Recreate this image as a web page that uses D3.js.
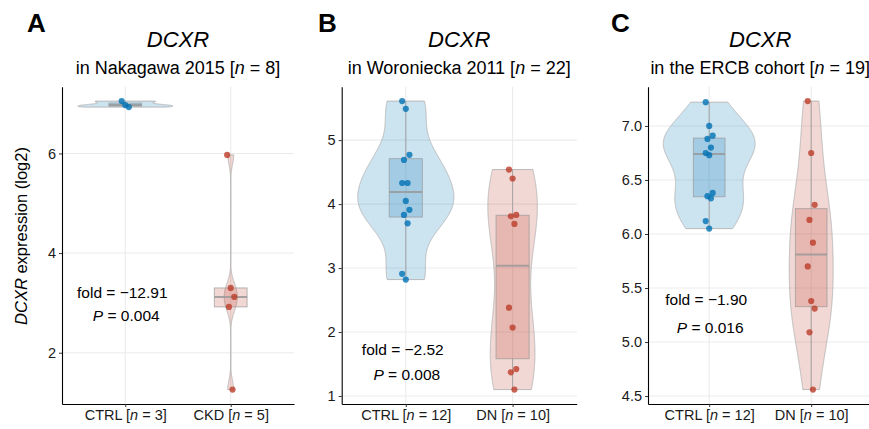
<!DOCTYPE html>
<html>
<head>
<script src="https://cdn.jsdelivr.net/npm/d3@7"></script>
<style>
body { margin: 0; background: #fff; }
svg { font-family: "Liberation Sans", Arial, Helvetica, sans-serif; }
</style>
</head>
<body>
<svg id="chart" width="869" height="429"></svg>
<script>
// values
var groupsA = ["CTRL", "CKD"], nA = [3, 5];
var ctrlA = [7.05, 6.97, 6.93];
var ckdA = [5.97, 3.30, 3.12, 2.92, 1.26];

var groupsB = ["CTRL", "DN"], nB = [12, 10];
var ctrlB = [5.61, 5.49, 4.77, 4.69, 4.33, 4.33, 4.05, 3.91, 3.83, 3.70, 2.91, 2.82];
var dnB = [4.54, 4.40, 3.83, 3.81, 3.69, 2.38, 2.07, 1.42, 1.37, 1.10];

var groupsC = ["CTRL", "DN"], nC = [12, 10];
var ctrlC = [7.22, 7.00, 6.91, 6.88, 6.80, 6.75, 6.73, 6.38, 6.35, 6.33, 6.12, 6.05];
var dnC = [7.23, 6.75, 6.27, 6.13, 5.92, 5.70, 5.38, 5.31, 5.09, 4.56];

var letters = ["A", "B", "C"];
var cohorts = ["in Nakagawa 2015", "in Woroniecka 2011", "in the ERCB cohort"];
var cohortN = [8, 22, 19];
var folds = ["\u221212.91", "\u22122.52", "\u22121.90"];
var pvals = ["0.004", "0.008", "0.016"];
var yTicks = [[2, 4, 6], [1, 2, 3, 4, 5], [4.5, 5, 5.5, 6, 6.5, 7]];

// layout of the three panels
var panels = [
    {groups: groupsA, n: nA, values: [ctrlA, ckdA], l: 62, r: 294, letterX: 27, foldY: 3.21, pY: 2.75, fmt: d3.format("d")},
    {groups: groupsB, n: nB, values: [ctrlB, dnB], l: 341.7, r: 576.7, letterX: 318, foldY: 1.72, pY: 1.33, fmt: d3.format("d")},
    {groups: groupsC, n: nC, values: [ctrlC, dnC], l: 648, r: 872.4, letterX: 611, foldY: 5.39, pY: 5.13, fmt: d3.format(".1f")}
];
var plotTop = 86.7, plotBottom = 404;
var colors = ["#0072B5", "#BC3C29"];

var svg = d3.select("#chart");

function bwNrd0(x) {
    var s = x.slice().sort(d3.ascending);
    var iqr = d3.quantile(s, 0.75) - d3.quantile(s, 0.25);
    var lo = Math.min(d3.deviation(x), iqr / 1.34);
    return 0.9 * lo * Math.pow(x.length, -0.2);
}

function kde(x, bw, grid) {
    return grid.map(function (v) {
        return {v: v, d: d3.mean(x, function (xi) {
            var u = (v - xi) / bw;
            return Math.exp(-0.5 * u * u) / (Math.sqrt(2 * Math.PI) * bw);
        })};
    });
}

panels.forEach(function (p, pi) {
    var all = d3.merge(p.values);
    var ext = d3.extent(all), pad = (ext[1] - ext[0]) * 0.05;
    var y = d3.scaleLinear().domain([ext[0] - pad, ext[1] + pad]).range([plotBottom, plotTop]);
    var x = d3.scalePoint().domain(p.groups).range([p.l, p.r]).padding(0.6);
    var step = x.step();
    var g = svg.append("g");

    // grid
    g.selectAll(".hg").data(yTicks[pi]).enter().append("line")
        .attr("x1", p.l).attr("x2", p.r)
        .attr("y1", function (d) { return y(d); }).attr("y2", function (d) { return y(d); })
        .attr("stroke", "#ebebeb").attr("stroke-width", 1.1);
    g.selectAll(".vg").data(p.groups).enter().append("line")
        .attr("x1", function (d) { return x(d); }).attr("x2", function (d) { return x(d); })
        .attr("y1", plotTop).attr("y2", plotBottom)
        .attr("stroke", "#ebebeb").attr("stroke-width", 1.1);

    // violins
    var dens = p.values.map(function (v) {
        var e = d3.extent(v);
        var grid = d3.range(512).map(function (i) { return e[0] + (e[1] - e[0]) * i / 511; });
        return kde(v, bwNrd0(v), grid);
    });
    var maxD = d3.max(dens, function (ds) { return d3.max(ds, function (d) { return d.d; }); });
    var w = d3.scaleLinear().domain([0, maxD]).range([0, 0.45 * step]);

    dens.forEach(function (ds, gi) {
        var cx = x(p.groups[gi]);
        var area = d3.area()
            .y(function (d) { return y(d.v); })
            .x0(function (d) { return cx - w(d.d); })
            .x1(function (d) { return cx + w(d.d); });
        g.append("path").datum(ds).attr("d", area)
            .attr("fill", colors[gi]).attr("fill-opacity", 0.2)
            .attr("stroke", "#b3b3b3").attr("stroke-width", 0.9);
    });

    // boxplots
    p.values.forEach(function (v, gi) {
        var s = v.slice().sort(d3.ascending);
        var q1 = d3.quantile(s, 0.25), med = d3.quantile(s, 0.5), q3 = d3.quantile(s, 0.75);
        var iqr = q3 - q1;
        var lo = d3.min(s.filter(function (d) { return d >= q1 - 1.5 * iqr; }));
        var hi = d3.max(s.filter(function (d) { return d <= q3 + 1.5 * iqr; }));
        var cx = x(p.groups[gi]), bw = 0.31 * step;
        g.append("line").attr("x1", cx).attr("x2", cx).attr("y1", y(hi)).attr("y2", y(q3))
            .attr("stroke", "#999").attr("stroke-opacity", 0.8);
        g.append("line").attr("x1", cx).attr("x2", cx).attr("y1", y(q1)).attr("y2", y(lo))
            .attr("stroke", "#999").attr("stroke-opacity", 0.8);
        g.append("rect").attr("x", cx - bw / 2).attr("width", bw)
            .attr("y", y(q3)).attr("height", y(q1) - y(q3))
            .attr("fill", colors[gi]).attr("fill-opacity", 0.2)
            .attr("stroke", "#999").attr("stroke-opacity", 0.7);
        g.append("line").attr("x1", cx - bw / 2).attr("x2", cx + bw / 2)
            .attr("y1", y(med)).attr("y2", y(med))
            .attr("stroke", "#999").attr("stroke-width", 2).attr("stroke-opacity", 0.85);
    });

    // jittered points
    p.values.forEach(function (v, gi) {
        var cx = x(p.groups[gi]);
        g.selectAll(".pt" + gi).data(v).enter().append("circle")
            .attr("cx", function (d, i) { return cx + (((i * 7) % 5) - 2) * 0.017 * step; })
            .attr("cy", function (d) { return y(d); })
            .attr("r", 3.1)
            .attr("fill", colors[gi]).attr("fill-opacity", 0.8);
    });

    // axes
    var ya = g.append("g").attr("transform", "translate(" + p.l + ",0)")
        .call(d3.axisLeft(y).tickValues(yTicks[pi]).tickFormat(p.fmt).tickSize(3).tickSizeOuter(0).tickPadding(3));
    var xa = g.append("g").attr("transform", "translate(0," + plotBottom + ")")
        .call(d3.axisBottom(x).tickSize(3).tickSizeOuter(0).tickPadding(3));
    [ya, xa].forEach(function (a) {
        a.select(".domain").attr("stroke", "#000").attr("stroke-width", 1.1);
        a.selectAll(".tick line").attr("stroke", "#333");
        a.selectAll(".tick text").attr("fill", "#1a1a1a").attr("font-size", 14.5)
            .attr("font-family", null);
    });
    xa.selectAll(".tick text").each(function (d, i) {
        var t = d3.select(this).text(null);
        t.append("tspan").text(d + " [");
        t.append("tspan").attr("font-style", "italic").text("n");
        t.append("tspan").text(" = " + p.n[i] + "]");
    });

    // titles
    var mid = (p.l + p.r) / 2;
    svg.append("text").attr("x", p.letterX).attr("y", 32)
        .attr("font-size", 26).attr("font-weight", "bold").text(letters[pi]);
    svg.append("text").attr("x", mid).attr("y", 47).attr("text-anchor", "middle")
        .attr("font-size", 22).attr("font-style", "italic").text("DCXR");
    var st = svg.append("text").attr("x", mid).attr("y", 74).attr("text-anchor", "middle")
        .attr("font-size", 18);
    st.append("tspan").text(cohorts[pi] + " [");
    st.append("tspan").attr("font-style", "italic").text("n");
    st.append("tspan").text(" = " + cohortN[pi] + "]");

    // annotation
    var ax = x(p.groups[0]);
    g.append("text").attr("x", ax - 3).attr("y", y(p.foldY)).attr("dy", "0.35em")
        .attr("text-anchor", "middle").attr("font-size", 15.5)
        .text("fold = " + folds[pi]);
    var pt = g.append("text").attr("x", ax + 1).attr("y", y(p.pY)).attr("dy", "0.35em")
        .attr("text-anchor", "middle").attr("font-size", 15.5);
    pt.append("tspan").attr("font-style", "italic").text("P");
    pt.append("tspan").text(" = " + pvals[pi]);
});

// y axis title (first panel only)
var yt = svg.append("text").attr("transform", "translate(27," + 236 + ") rotate(-90)")
    .attr("text-anchor", "middle").attr("font-size", 16.5);
yt.append("tspan").attr("font-style", "italic").text("DCXR");
yt.append("tspan").text(" expression (log2)");
</script>
</body>
</html>
